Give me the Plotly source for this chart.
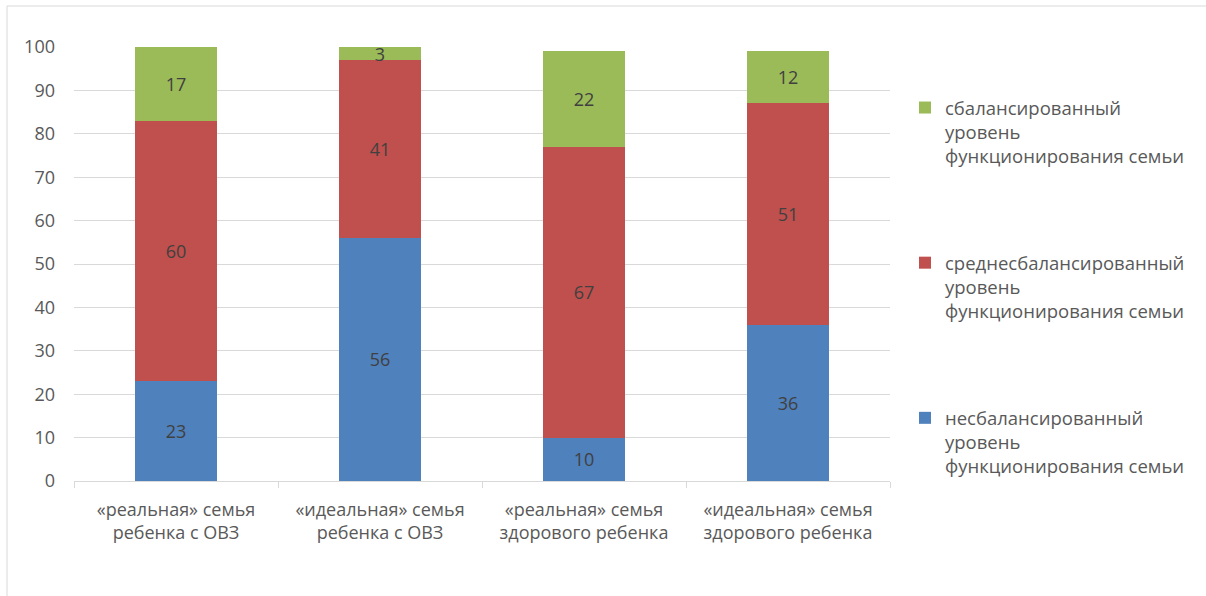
import plotly.graph_objects as go

categories = ["«реальная» семья<br>ребенка с ОВЗ", "«идеальная» семья<br>ребенка с ОВЗ",
              "«реальная» семья<br>здорового ребенка", "«идеальная» семья<br>здорового ребенка"]
unbalanced = [23, 56, 10, 36]
mid_balanced = [60, 41, 67, 51]
balanced = [17, 3, 22, 12]

names = ["несбалансированный<br>уровень<br>функционирования семьи",
         "среднесбалансированный<br>уровень<br>функционирования семьи",
         "сбалансированный<br>уровень<br>функционирования семьи"]
colors = ["#4F81BD", "#C0504D", "#9BBB59"]
ranks = [3, 2, 1]
series = [unbalanced, mid_balanced, balanced]

FONT = "Open Sans"
fig = go.Figure()
for i, (vals, nm, col) in enumerate(zip(series, names, colors)):
    fig.add_trace(go.Bar(
        x=categories, y=vals, name=nm, marker=dict(color=col, line=dict(width=0)),
        text=vals, texttemplate="%{y}", textposition="inside", insidetextanchor="middle",
        textangle=0, constraintext="none",
        textfont=dict(family=FONT, size=18, color="#404040"),
        legendgroup=f"g{i}", legendrank=ranks[i],
    ))

W, H = 1206, 596
L, R, T, B = 74, 316, 47, 115
pw, ph = W - L - R, H - T - B

def px(xp):
    return (xp - L) / pw

def py(yp):
    return (H - B - yp) / ph

fig.update_layout(
    width=W, height=H,
    margin=dict(l=L, r=R, t=T, b=B, autoexpand=False),
    barmode="stack", bargap=0.6,
    paper_bgcolor="white", plot_bgcolor="white",
    font=dict(family=FONT, size=18, color="#595959"),
    showlegend=True,
    legend=dict(x=px(905), y=py(89), xanchor="left", yanchor="top",
                traceorder="grouped", tracegroupgap=80, valign="top",
                font=dict(family=FONT, size=18.5, color="#595959"),
                bgcolor="rgba(0,0,0,0)"),
    xaxis=dict(showline=True, linecolor="#D9D9D9", linewidth=1, ticks="outside",
               tickson="boundaries", ticklen=6, tickcolor="#D9D9D9",
               ticklabelstandoff=12,
               tickfont=dict(family=FONT, size=18, color="#595959")),
    yaxis=dict(range=[0, 100], dtick=10, showgrid=True, gridcolor="#D9D9D9", gridwidth=1,
               zeroline=False, showline=False, ticks="", ticklabelstandoff=18,
               tickfont=dict(family=FONT, size=18, color="#595959")),
    shapes=[dict(type="rect", xref="paper", yref="paper",
                 x0=px(7), x1=px(1215), y0=py(610), y1=py(6),
                 line=dict(color="#D9D9D9", width=1), fillcolor="rgba(0,0,0,0)", layer="below")],
)

fig.write_html("out.html")
